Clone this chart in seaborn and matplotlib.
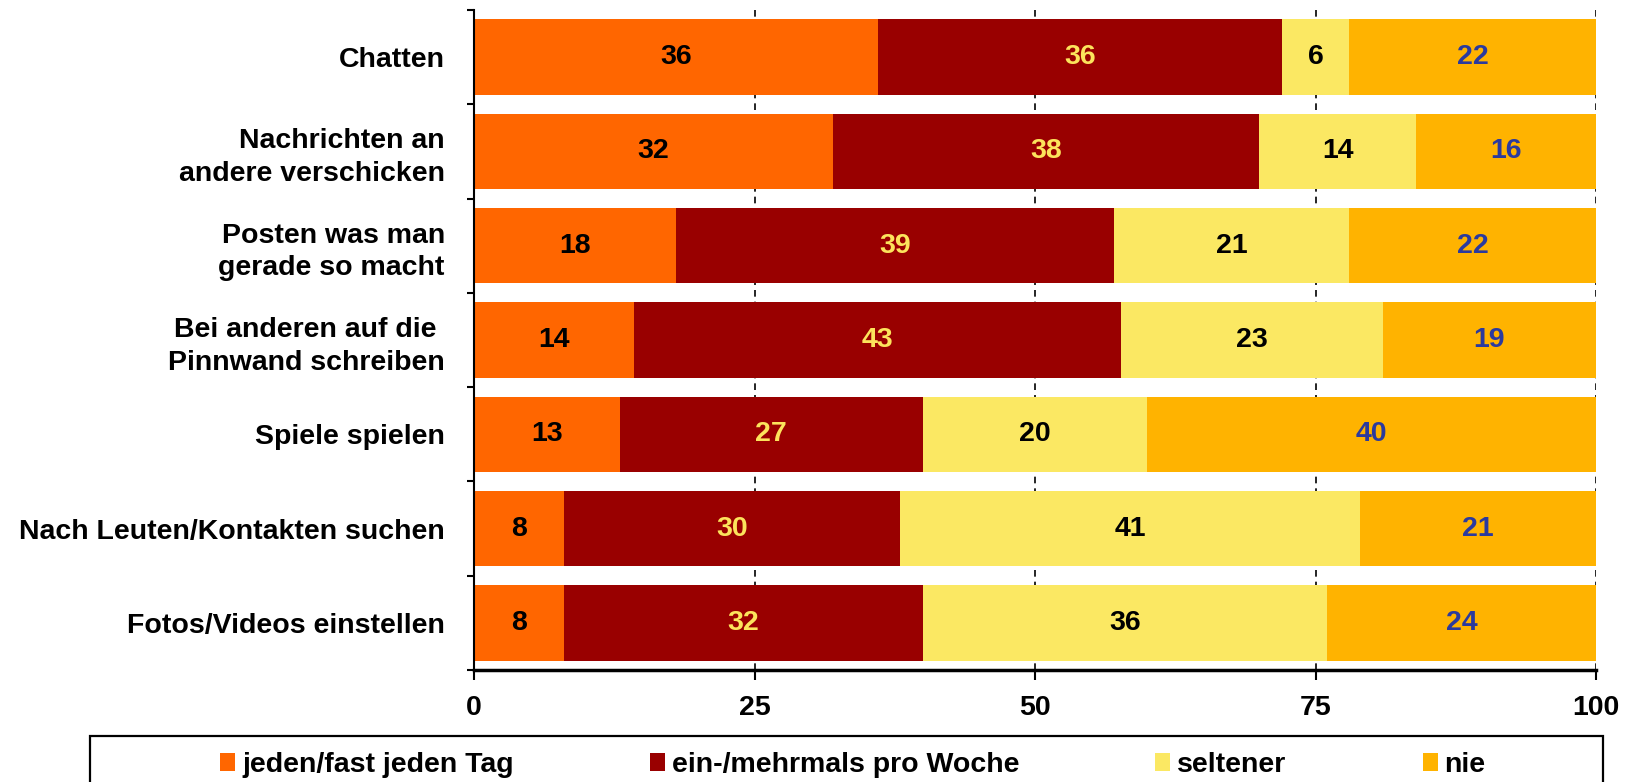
import numpy as np
import pandas as pd
import matplotlib.pyplot as plt
import seaborn as sns
from matplotlib.patches import Patch, Rectangle

# Daten (Prozent), von oben nach unten
kategorien = ["Chatten",
              "Nachrichten an\nandere verschicken",
              "Posten was man\ngerade so macht",
              "Bei anderen auf die \nPinnwand schreiben",
              "Spiele spielen",
              "Nach Leuten/Kontakten suchen",
              "Fotos/Videos einstellen"]
jeden_tag = [36, 32, 18, 14.3, 13, 8, 8]
pro_woche = [36, 38, 39, 43.4, 27, 30, 32]
seltener = [6, 14, 21, 23.3, 20, 41, 36]
nie = [22, 16, 22, 19.0, 40, 21, 24]

serien = ["jeden/fast jeden Tag", "ein-/mehrmals pro Woche", "seltener", "nie"]
farben = ["#FF6600", "#990000", "#FBE863", "#FFB300"]
text_farben = ["black", "#FCE35C", "black", "#2B3A9E"]

df = pd.DataFrame({"kategorie": kategorien,
                   serien[0]: jeden_tag,
                   serien[1]: pro_woche,
                   serien[2]: seltener,
                   serien[3]: nie})
kum = df[serien].cumsum(axis=1)

sns.set_style("white")
plt.rcParams['font.family'] = ['Liberation Sans', 'DejaVu Sans']
plt.rcParams['font.weight'] = 'bold'
plt.rcParams['text.color'] = 'black'
plt.rcParams['xtick.color'] = 'black'
plt.rcParams['ytick.color'] = 'black'
plt.rcParams['axes.labelcolor'] = 'black'
fs = 20.5

fig = plt.figure(figsize=(16.38, 7.82), dpi=100)
ax = fig.add_axes([474 / 1638, 1 - 670 / 782, (1596 - 474) / 1638, 660 / 782])

# gestapelte Balken: kumulierte Summen von hinten nach vorne zeichnen
for i in range(3, -1, -1):
    sns.barplot(x=kum[serien[i]].values, y=df["kategorie"], orient="y", color=farben[i],
                saturation=1, width=0.8, linewidth=0, ax=ax)

# Werte in die Segmente schreiben
for j in range(len(df)):
    for i, s in enumerate(serien):
        wert = df.loc[j, s]
        mitte = kum.loc[j, s] - wert / 2
        ax.text(mitte, j, f"{round(wert)}", ha="center", va="center",
                fontsize=fs, fontweight="bold", color=text_farben[i])

ax.set_xlim(0, 100)
ax.set_ylim(6.5, -0.5)
ax.set_xlabel("")
ax.set_ylabel("")
ax.set_xticks([0, 25, 50, 75, 100])

ax.set_axisbelow(True)
ax.xaxis.grid(True, color="black", linestyle=(0, (4, 3)), linewidth=1.2)
ax.yaxis.grid(False)

for s in ["top", "right"]:
    ax.spines[s].set_visible(False)
ax.spines["left"].set_linewidth(1.5)
ax.spines["left"].set_color("black")
ax.spines["bottom"].set_linewidth(2.5)
ax.spines["bottom"].set_color("black")

ax.tick_params(axis="x", direction="out", length=7, width=1.5, pad=11,
               labelsize=fs, colors="black", bottom=True)
ax.tick_params(axis="y", which="major", length=0, pad=21, labelsize=fs, labelcolor="black")
ax.set_yticks(np.arange(-0.5, 7, 1), minor=True)
ax.tick_params(axis="y", which="minor", direction="out", length=5, width=1.5,
               left=True, color="black")
for t in ax.get_yticklabels():
    t.set_linespacing(1.33)
    t.set_fontweight("bold")
for t in ax.get_xticklabels():
    t.set_fontweight("bold")

# Legende mit Rahmen unten
handles = [Patch(facecolor=c, edgecolor="none") for c in farben]
fig.legend(handles, serien, loc="center", bbox_to_anchor=(853 / 1638, 1 - 765 / 782),
           ncol=4, frameon=False, prop={"weight": "bold", "size": fs},
           handlelength=0.52, handleheight=0.56, handletextpad=0.25,
           columnspacing=4.78, borderaxespad=0, borderpad=0)
fig.add_artist(Rectangle((90 / 1638, -0.1), (1603 - 90) / 1638, 0.1 + 1 - 736 / 782,
                         transform=fig.transFigure, fill=False, edgecolor="black",
                         linewidth=1.6))

fig.savefig("out.png", dpi=100)
